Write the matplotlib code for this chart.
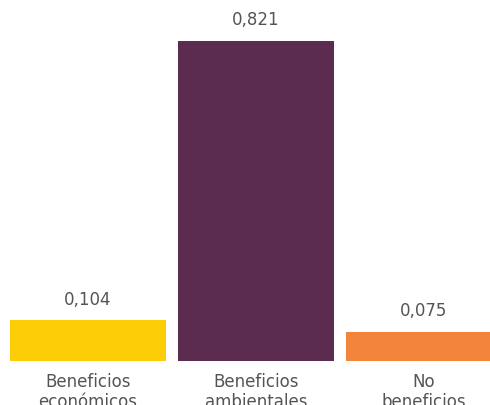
import matplotlib
matplotlib.use("Agg")
import matplotlib.pyplot as plt

categories = ["Beneficios\neconómicos", "Beneficios\nambientales", "No\nbeneficios"]
values = [0.104, 0.821, 0.075]
value_labels = ["0,104", "0,821", "0,075"]
colors = ["#FDCD08", "#5B2B50", "#F2843C"]

plt.rcParams["font.family"] = ["DejaVu Sans"]
text_color = "#555555"

fig = plt.figure(figsize=(4.9, 4.05), dpi=100)
ax = fig.add_axes([0, 44 / 405, 1, 361 / 405])

x = list(range(len(values)))
bars = ax.bar(x, values, width=156 / 168, color=colors)

ax.set_xlim(-88 / 168, (490 - 88) / 168)
ax.set_ylim(0, 0.9262)
ax.axis("off")

for xi, v, lab in zip(x, values, value_labels):
    ax.annotate(lab, (xi, v), xytext=(0, 8.5), textcoords="offset points",
                ha="center", va="bottom", fontsize=12, color=text_color)

for xi, cat in zip(x, categories):
    ax.annotate(cat, (xi, 0), xytext=(0, -8.5), textcoords="offset points",
                ha="center", va="top", fontsize=12, color=text_color,
                linespacing=1.15, annotation_clip=False)

fig.savefig("out.png", dpi=100)
